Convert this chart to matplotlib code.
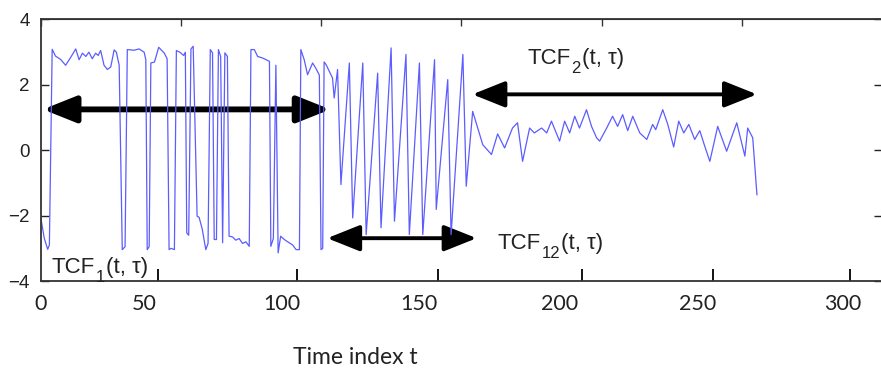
import matplotlib
matplotlib.use("Agg")
import matplotlib.pyplot as plt
from matplotlib.patches import FancyArrowPatch

# time index and signal
t = [0, 1.2, 2.4, 3.0, 4.0, 5.2, 7.0, 8.8, 10.6, 12.4, 13.6, 14.8, 16.0, 17.1,
     18.3, 19.5, 20.4, 21.3, 22.5, 23.7, 24.9, 26.1, 26.9, 27.9, 29.0, 30.0,
     30.8, 33.2, 35.0, 36.8, 37.4, 37.9, 38.6, 39.2, 40.5, 42.0, 44.0, 45.0,
     45.7, 46.4, 47.6, 48.3, 49.5, 50.9, 51.5, 52.0, 52.7, 53.5, 54.3, 55.7,
     56.4, 57.5, 58.8, 59.6, 60.4, 61.2, 61.8, 62.6, 63.3, 64.1, 64.8, 65.6,
     66.5, 67.1, 68.3, 69.5, 70.7, 71.9, 73.1, 74.3, 74.9, 76.1, 77.3, 79.1,
     80.3, 81.5, 82.0, 82.9, 83.8, 84.6, 85.5, 86.8, 88.0, 89.8, 91.0, 92.2,
     92.7, 93.9, 95.1, 96.9, 98.1, 99.3, 99.9, 100.5, 101.0, 101.7, 104.0,
     104.6, 105.8, 107.0, 110.0, 111.2, 114.8, 116.0, 120.1, 121.3, 124.9,
     126.1, 130.2, 131.4, 135.0, 136.2, 140.4, 141.0, 145.1, 146.3, 150.5,
     151.7, 154.0, 157.6, 160.7, 162.9, 165.4, 168.2, 170.0, 171.8, 174.3,
     176.0, 178.6, 180.4, 182.1, 185.0, 186.8, 188.6, 190.4, 192.1, 194.6,
     196.4, 198.2, 199.3, 201.8, 203.9, 205.7, 207.5, 209.3, 211.1, 213.6,
     216.1, 218.2, 219.3, 221.8, 223.6, 225.7, 227.5, 229.3, 231.1, 233.2,
     235.0, 236.8, 238.6, 241.4, 244.6, 248.2, 251.1, 252.1, 253.9, 255.4]
tcf = [-2.1, -2.7, -3.03, -2.9, 3.09, 2.88, 2.78, 2.6, 2.84, 3.1, 2.77, 2.97, 2.87, 3.0,
       2.8, 2.97, 2.9, 3.05, 2.6, 2.47, 2.55, 3.07, 3.0, 2.6, -3.04, -2.95,
       3.08, 3.06, 3.1, 3.0, 2.77, -3.04, -2.95, 2.67, 2.7, 3.15, 2.97, 2.8,
       -3.04, -3.0, -3.04, 3.05, 3.0, 2.9, 3.0, -2.53, -2.6, 3.1, 3.18, -2.02,
       -2.05, -2.4, -3.04, -2.85, 3.08, 2.98, -2.73, -2.73, 3.08, 2.87, -2.83, 2.98,
       2.87, -2.63, -2.65, -2.75, -2.7, -2.85, -2.8, -2.94, 3.08, 3.08, 2.87, 2.82,
       2.77, 2.72, -2.94, -2.7, 2.6, -3.14, -2.63, -2.73, -2.8, -2.9, -3.04, -3.04,
       3.08, 2.77, 2.31, 2.67, 2.5, 2.3, -3.04, -3.0, 2.7, 2.62, 2.21,
       1.6, 2.47, -1.05, 2.67, -2.07, 2.67, -2.58, 2.36, -2.37, 3.13,
       -2.17, 2.93, -2.58, 2.67, -2.58, 2.77, -1.81, 2.16, -2.58, 2.93,
       -1.1, 1.19, 0.17, -0.13, 0.5, 0.07, 0.68, 0.84, -0.34, 0.68,
       0.53, 0.68, 0.53, 0.89, 0.28, 0.89, 0.53, 1.04, 0.68, 1.24,
       0.73, 0.38, 0.28, 0.68, 1.04, 0.73, 1.09, 0.6, 1.04, 0.53,
       0.33, 0.79, 0.63, 1.24, 0.79, 0.1, 0.89, 0.53, 0.79, 0.33,
       0.6, 0.12, -0.34, 0.73, -0.03, 0.84, -0.18, 0.68, 0.38, -1.36]

y_ticks = [-4, -2, 0, 2, 4]
frame_ticks = [0, 50, 100, 150, 200, 250, 300]
x_labels = ['0', '50', '100', '150', '200', '250', '300']
x_label_at = [0, 36.8, 86.1, 135.0, 185.0, 234.3, 286.1]
x_marks_at = [41.8, 91.4, 141.8, 192.9, 239.6, 288.6]

# segment labels: (main text, subscript, x, baseline)
seg_labels = [('TCF', '1', 3.9, -3.76), ('TCF', '12', 162.9, -3.03), ('TCF', '2', 173.6, 2.63)]

fig = plt.figure(figsize=(8.81, 3.70), dpi=100)
ax = fig.add_axes([0.0465, 0.2405, 0.9546, 0.7068])
ax.plot(t, tcf, color='#5c5cff', lw=0.9)
ax.set_xlim(0, 300)
ax.set_ylim(-4, 4)

for s in ax.spines.values():
    s.set_color('#333333')
    s.set_linewidth(1.3)

ax.set_yticks(y_ticks)
ax.tick_params(axis='y', direction='in', length=6, width=1, right=True,
               labelsize=13.5, pad=8, colors='#222222')
for lab in ax.get_yticklabels():
    lab.set_family('Liberation Sans')

ax.set_xticks(x_label_at, x_labels)
ax.set_xticks(x_marks_at, minor=True)
ax.tick_params(axis='x', which='major', length=0, pad=9, labelsize=15.5)
ax.tick_params(axis='x', which='minor', direction='in', length=9, width=1.3,
               color='black')
for lab in ax.get_xticklabels():
    lab.set_family('Lato')
    lab.set_color('#222222')

top = ax.secondary_xaxis('top')
top.set_xticks(frame_ticks)
top.tick_params(direction='in', length=5, width=1, labeltop=False, color='#333333')
top.spines['top'].set_color('#333333')

fig.text(355 / 881, 1 - 357 / 370, 'Time index t', ha='center', va='center',
         fontsize=16.5, family='Lato', color='#222222')

# double arrows: (start, end, level, line width)
arrows = [(0.7, 103.2, 1.25, 4.2), (102.1, 155.4, -2.69, 2.8), (153.9, 255.4, 1.71, 2.8)]
for x0, x1, yv, lw in arrows:
    ax.add_patch(FancyArrowPatch((x0, yv), (x1, yv),
                                 arrowstyle='<|-|>,head_length=20,head_width=8',
                                 mutation_scale=1, lw=lw, color='black',
                                 shrinkA=0, shrinkB=0))

for main, sub, xv, yv in seg_labels:
    m = ax.text(xv, yv, main, fontsize=16, color='#222222',
                family='Liberation Sans', va='baseline')
    s = ax.annotate(sub, xy=(1, 0), xycoords=m, xytext=(0.5, -2.5),
                    textcoords='offset points', fontsize=12, color='#222222',
                    family='Liberation Sans', va='baseline')
    ax.annotate('(t, \u03c4)', xy=(1, 0), xycoords=(s, m), xytext=(0.5, 0),
                textcoords='offset points', fontsize=16, color='#222222',
                family='Liberation Sans', va='bottom')

fig.savefig('out.png', dpi=100)
